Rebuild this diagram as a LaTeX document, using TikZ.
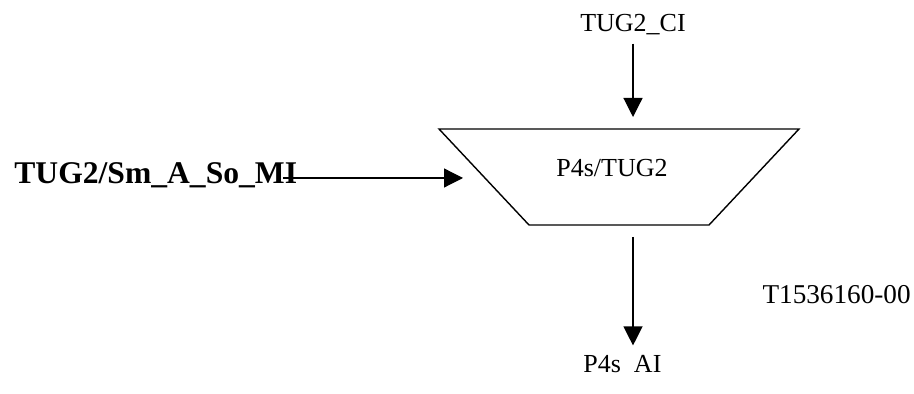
\documentclass[tikz,border=0pt]{standalone}
\usepackage{fontspec}
\setmainfont{Liberation Serif}
\usetikzlibrary{arrows.meta}

\begin{document}
\begin{tikzpicture}[
  x=0.5pt, y=-0.5pt,
  border/.style={line width=0.7pt, line join=miter},
  signal/.style={font=\fontsize{13}{15}\selectfont, inner sep=0pt, anchor=base},
  arrow/.style={-{Triangle[length=9.5pt, width=9.5pt]}, line width=0.6pt}
]
\useasboundingbox (0,0) rectangle (914,394);

% Adaptation function
\coordinate (topL) at (439,129);
\coordinate (topR) at (799,129);
\coordinate (botR) at (709,225);
\coordinate (botL) at (529,225);
\coordinate (inTip) at (463,178);
\draw[border] (topL) -- (topR) -- (botR) -- (botL) -- cycle;
\node[signal] (adaptName) at (612,177) {P4s/TUG2};

% Signals
\node[signal] (ci) at (633,32) {TUG2\_CI};
\node[signal, anchor=base west] (ai) at (583,373) {P4s~~AI};
\node[signal, anchor=base west, font=\fontsize{15.8}{18}\selectfont\bfseries]
  (mi) at (14,184) {TUG2/Sm\_A\_So\_MI};
\node[signal, anchor=base east, font=\fontsize{13.6}{16}\selectfont]
  (fig) at (911,304) {T1536160-00};

% Arrows
\draw[arrow, shorten <=4pt, shorten >=6pt] (ci) -- (ci |- topL);
\draw[arrow, shorten <=6pt, shorten >=5pt] (ci |- botL) -- (ci |- ai.north);
\draw[arrow, shorten <=-7pt] (mi.east |- inTip) -- (inTip);

\end{tikzpicture}
\end{document}
